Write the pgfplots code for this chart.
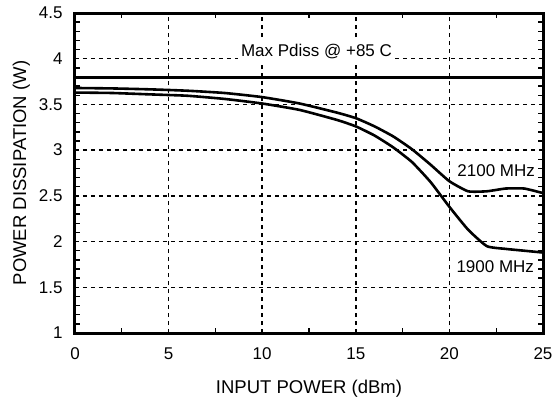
\documentclass[border=0pt]{standalone}
\usepackage{fontspec}
\setmainfont{Liberation Sans}
\usepackage{pgfplots}
\pgfplotsset{compat=1.18}
\begin{document}
\begin{tikzpicture}
\begin{axis}[
  scale only axis,
  width=468pt, height=320pt,
  xmin=0, xmax=25, ymin=1, ymax=4.5,
  xtick={0,5,...,25}, ytick={1,1.5,...,4.5},
  minor x tick num=1, minor y tick num=4,
  tick align=inside,
  major tick length=0pt, minor tick length=5pt,
  every minor tick/.style={line width=1.4pt, black},
  grid=major,
  major grid style={line width=1.4pt, black, dash pattern=on 4pt off 4pt},
  axis line style={line width=3pt},
  /pgf/number format/assume math mode=true,
  yticklabel style={/pgf/number format/fixed, /pgf/number format/precision=1},
  ticklabel style={font=\fontsize{17}{19}\selectfont},
  xticklabel style={yshift=-11pt},
  yticklabel style={xshift=-9pt},
  xlabel={INPUT POWER (dBm)},
  ylabel={POWER DISSIPATION (W)},
  label style={font=\fontsize{18.5}{20}\selectfont},
  xlabel style={yshift=-14pt},
  ylabel style={yshift=2pt},
  clip=false,
]
\addplot[black, line width=3pt] coordinates {(0,3.8) (25,3.8)};
\addplot[black, line width=2.6pt, smooth, tension=0.3] coordinates {
(0,3.68) (2,3.675) (4,3.665) (6,3.65) (8,3.625) (10,3.58) (12,3.51) (14,3.41) (15,3.35) (16,3.26) (17,3.15) (18,3.01) (19,2.84) (20,2.66) (21,2.55) (22,2.55) (23,2.58) (24,2.58) (25,2.53)};
\addplot[black, line width=2.6pt, smooth, tension=0.3] coordinates {
(0,3.63) (2,3.625) (4,3.61) (6,3.595) (8,3.56) (10,3.51) (12,3.44) (14,3.33) (15,3.26) (16,3.16) (17,3.03) (18,2.87) (19,2.65) (20,2.38) (21,2.13) (22,1.95) (23,1.92) (24,1.90) (25,1.88)};
\node[fill=white, inner sep=3pt, font=\fontsize{17}{19}\selectfont] at (axis cs:12.9,4.08) {Max Pdiss @ +85 C};
\node[fill=white, inner sep=2pt, font=\fontsize{17}{19}\selectfont] at (axis cs:22.5,2.78) {2100 MHz};
\node[fill=white, inner sep=2pt, font=\fontsize{17}{19}\selectfont] at (axis cs:22.45,1.73) {1900 MHz};
\end{axis}
\pgfresetboundingbox
\path[use as bounding box] (-75pt,-67pt) rectangle (477pt,333pt);
\end{tikzpicture}
\end{document}
